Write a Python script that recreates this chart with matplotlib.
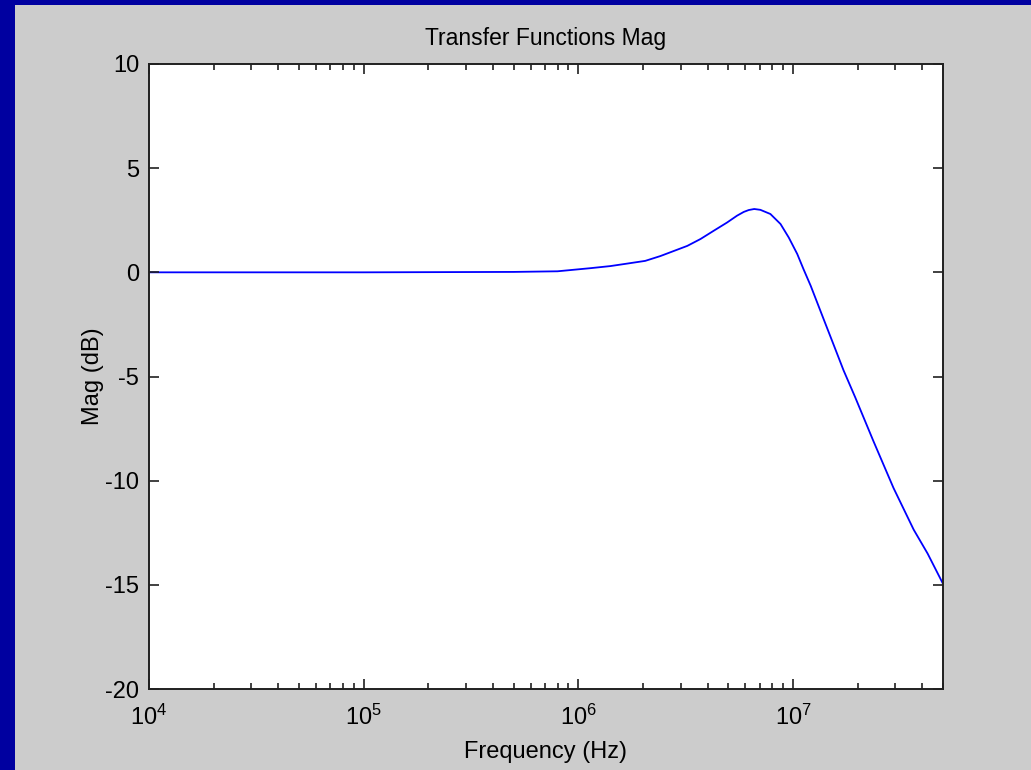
import matplotlib
matplotlib.use("Agg")
import matplotlib.pyplot as plt
from matplotlib.patches import Rectangle
from matplotlib.ticker import LogLocator, FixedLocator, NullLocator

plt.rcParams['font.family'] = ['Liberation Sans', 'DejaVu Sans']
plt.rcParams['mathtext.default'] = 'regular'
plt.rcParams['axes.unicode_minus'] = False

# Magnitude response samples
freq_hz = [1e4, 1e5, 5e5, 8.0e5, 1.14e6, 1.41e6, 1.69e6, 2.05e6, 2.41e6,
           3.22e6, 3.71e6, 4.28e6, 4.93e6, 5.49e6, 5.9e6, 6.22e6, 6.6e6,
           7.05e6, 7.85e6, 8.75e6, 9.56e6, 1.047e7, 1.12e7, 1.21e7, 1.39e7,
           1.55e7, 1.72e7, 1.95e7, 2.37e7, 2.94e7, 3.65e7, 4.24e7, 5.0e7]
mag_db = [0.0, 0.0, 0.02, 0.05, 0.2, 0.3, 0.42, 0.55, 0.78,
          1.27, 1.60, 2.00, 2.39, 2.72, 2.90, 2.99, 3.04,
          3.00, 2.80, 2.32, 1.67, 0.88, 0.15, -0.65, -2.25,
          -3.5, -4.7, -6.0, -8.1, -10.35, -12.35, -13.5, -14.95]

y_ticks = [-20, -15, -10, -5, 0, 5, 10]
x_limits = (1e4, 5e7)
y_limits = (-20, 10)

W, H = 1031, 770
fig = plt.figure(figsize=(W / 100, H / 100), dpi=100, facecolor='#0000A0')

# grey window area inside the blue frame
fig.patches.append(Rectangle((15 / W, 0), 1 - 15 / W, 1 - 5 / H,
                             transform=fig.transFigure, facecolor='#CCCCCC',
                             edgecolor='none', zorder=-10))

ax = fig.add_axes([149 / W, 1 - 689 / H, (943 - 149) / W, (689 - 64) / H])
ax.set_zorder(1)
ax.set_facecolor('white')
ax.plot(freq_hz, mag_db, color='#0000FF', lw=1.3, zorder=1)

ax.set_xscale('log')
ax.set_xlim(*x_limits)
ax.set_ylim(*y_limits)
ax.yaxis.set_major_locator(FixedLocator(y_ticks))
ax.yaxis.set_minor_locator(NullLocator())
ax.xaxis.set_major_locator(LogLocator(base=10, numticks=10))
ax.xaxis.set_minor_locator(LogLocator(base=10, subs=range(2, 10), numticks=20))

ax.tick_params(which='both', direction='in', top=True, right=True,
               colors='#202020', labelcolor='black', labelsize=17)
ax.tick_params(which='major', length=7, width=1.2)
ax.tick_params(which='minor', length=4, width=1.2)
ax.tick_params(axis='x', which='major', pad=11)
ax.tick_params(axis='y', which='major', pad=7)
for sp in ax.spines.values():
    sp.set_linewidth(1.4)
    sp.set_color('#202020')
    sp.set_zorder(3)

ax.set_title('Transfer Functions Mag', fontsize=16.5, pad=14)
ax.set_xlabel('Frequency (Hz)', fontsize=17, labelpad=8)
ax.set_ylabel('Mag (dB)', fontsize=17, labelpad=1)

fig.savefig('out.png', dpi=100, facecolor=fig.get_facecolor())
